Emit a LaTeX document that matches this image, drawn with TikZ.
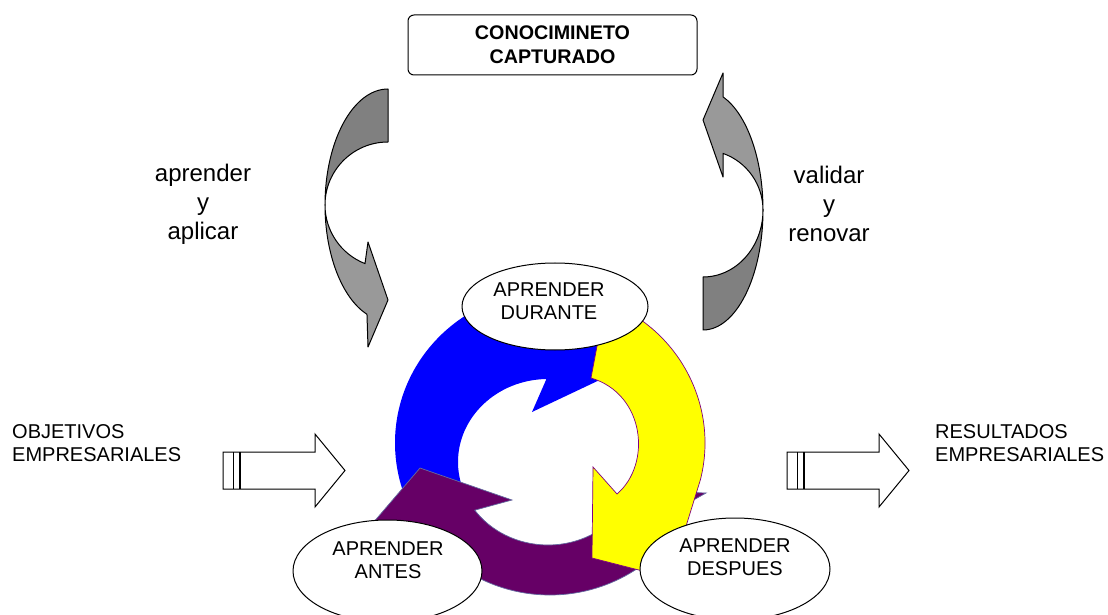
\documentclass[tikz,border=0pt]{standalone}
\usepackage{fontspec}
\setmainfont{Liberation Sans}
\usetikzlibrary{calc,shapes.geometric}
\definecolor{azul}{RGB}{0,0,255}
\definecolor{amarillo}{RGB}{255,255,0}
\definecolor{morado}{RGB}{102,0,102}
\definecolor{bordemorado}{RGB}{128,0,128}
\definecolor{bordeazul}{RGB}{100,105,160}
\definecolor{grisoscuro}{RGB}{128,128,128}
\definecolor{grisclaro}{RGB}{153,153,153}
\begin{document}
\begin{tikzpicture}[x=1pt,y=1pt,
	elip/.style={draw,fill=white,ellipse,line width=1pt,inner sep=0pt},
	rotulo/.style={align=center,font=\fontsize{20}{23}\selectfont,inner sep=0pt},
	verbo/.style={align=center,font=\fontsize{24}{29}\selectfont,inner sep=0pt},
	cinta/.style={draw,line width=1pt,line join=round},
	bloque/.style={draw,fill=white,line width=1pt}]
\clip (0,0) rectangle (1108,614);
\coordinate (O) at (550,171);
\coordinate (I) at (548,152);
\fill[azul] ($(O)+(230:155 and 152)$) arc[start angle=230, end angle=78, x radius=155, y radius=152]
	-- (612,314) -- (625,246) -- (532,202) -- ($(I)+(91:90 and 83)$)
	arc[start angle=91, end angle=228, x radius=90, y radius=83] -- cycle;
\filldraw[fill=morado,draw=bordeazul,line width=0.7pt] (706,121) -- ($(O)+(-22:155 and 152)$) arc[start angle=-22, end angle=-125, x radius=155, y radius=152]
	-- (354,69) -- (420,146) -- (512,114) -- ($(I)+(215.5:90 and 83)$)
	arc[start angle=215.5, end angle=340, x radius=90, y radius=83] -- cycle;
\filldraw[fill=amarillo,draw=bordemorado,line width=0.7pt] ($(O)+(69:155 and 152)$) arc[start angle=69, end angle=-14, x radius=155, y radius=152]
	-- (670,36) -- (592,56) -- (593,147) -- (617,120) .. controls (652,150) and (645,220) .. (591,236) -- cycle;
\node[elip,minimum width=186,minimum height=87] (durante) at (555,307.5) {};
\node[rotulo] (tdurante) at (549,313) {APRENDER\\DURANTE};
\node[elip,minimum width=189,minimum height=102] (antes) at (387.5,43) {};
\node[rotulo] (tantes) at (388,54) {APRENDER\\ANTES};
\node[elip,minimum width=190,minimum height=102] (despues) at (735,45) {};
\node[rotulo] (tdespues) at (735,57) {APRENDER\\DESPUES};
\filldraw[cinta,fill=grisoscuro] (388,525) arc[start angle=90, end angle=180, x radius=63, y radius=116]
	arc[start angle=180, end angle=90, radius=63] -- cycle;
\filldraw[cinta,fill=grisclaro] (325,409) arc[start angle=180, end angle=250.5, x radius=63, y radius=116]
	-- (368,267) -- (388,314) -- (368,372) -- (365,350.4) arc[start angle=248.6, end angle=180, radius=63] -- cycle;
\filldraw[cinta,fill=grisoscuro] (703,284) arc[start angle=270, end angle=360, x radius=60, y radius=120]
	arc[start angle=0, end angle=-90, x radius=60, y radius=67] -- cycle;
\filldraw[cinta,fill=grisclaro] (763,404) arc[start angle=0, end angle=70.5, x radius=60, y radius=120]
	-- (723,541) -- (703,494) -- (723,437) -- (723,460.6) arc[start angle=70.5, end angle=0, radius=60] -- cycle;
\node[verbo] (aprender) at (203,410) {aprender\\y\\aplicar};
\node[verbo] (validar) at (829,410) {validar\\y\\renovar};
\node[draw,rounded corners=6,line width=1pt,minimum width=289,minimum height=60,align=center,
	font=\fontsize{19.7}{24}\selectfont\bfseries] (conocimiento) at (552.5,569) {CONOCIMINETO\\CAPTURADO};
\foreach \x in {223,787}
{
	\draw[bloque] (\x,162) -- (\x+92,162) -- (\x+92,180) -- (\x+122,143.5) -- (\x+92,107) -- (\x+92,125) -- (\x,125) -- cycle;
	\draw[line width=1pt] (\x+10,162) -- (\x+10,125);
	\draw[line width=2.2pt] (\x+17,162) -- (\x+17,125);
}
\node[rotulo,align=left,anchor=west] (objetivos) at (12,170.5) {OBJETIVOS\\EMPRESARIALES};
\node[rotulo,align=left,anchor=west] (resultados) at (935,170.5) {RESULTADOS\\EMPRESARIALES};
\end{tikzpicture}
\end{document}
